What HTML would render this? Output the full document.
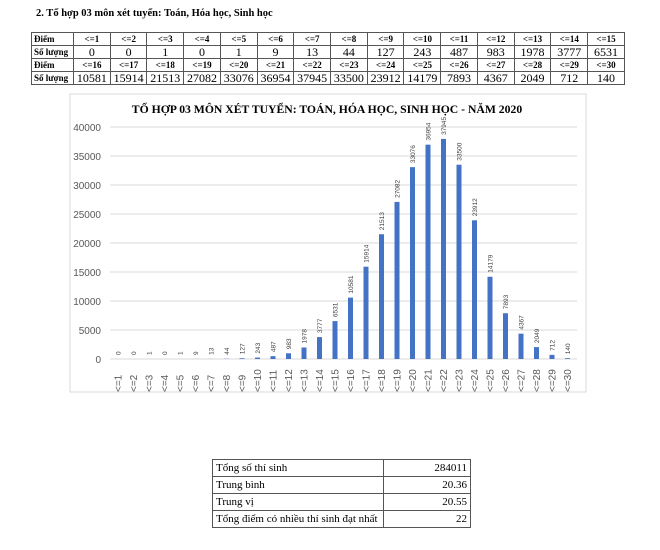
<!DOCTYPE html>
<html><head><meta charset="utf-8">
<style>
body{margin:0;width:660px;height:550px;background:#fff;position:relative;overflow:hidden;font-family:"Liberation Serif",serif;}
.title{position:absolute;left:36px;top:8px;font-weight:bold;font-size:10.5px;}
table{border-collapse:collapse;position:absolute;}
#t1{left:31px;top:32px;width:594px;table-layout:fixed;}
#t1 td{border:1px solid #555;text-align:center;padding:0;font-size:12px;height:12px;line-height:12px;overflow:hidden;white-space:nowrap;}
#t1 tr.h td{font-weight:bold;font-size:9px;}
#t1 td.f{text-align:left;font-weight:bold;font-size:9px;padding-left:2px;}
#t2{left:212px;top:459px;width:259px;}
#t2 td{border:1px solid #555;font-size:11px;height:16px;line-height:14px;padding:0 3px;}
#t2 td.r{text-align:right;width:80px;}
svg{position:absolute;left:0;top:0;}
</style></head><body>
<div class="title">2. Tổ hợp 03 môn xét tuyển: Toán, Hóa học, Sinh học</div>
<table id="t1">
<colgroup><col style="width:42px"></colgroup>
<tr class="h"><td class="f">Điểm</td><td>&lt;=1</td><td>&lt;=2</td><td>&lt;=3</td><td>&lt;=4</td><td>&lt;=5</td><td>&lt;=6</td><td>&lt;=7</td><td>&lt;=8</td><td>&lt;=9</td><td>&lt;=10</td><td>&lt;=11</td><td>&lt;=12</td><td>&lt;=13</td><td>&lt;=14</td><td>&lt;=15</td></tr>
<tr><td class="f">Số lượng</td><td>0</td><td>0</td><td>1</td><td>0</td><td>1</td><td>9</td><td>13</td><td>44</td><td>127</td><td>243</td><td>487</td><td>983</td><td>1978</td><td>3777</td><td>6531</td></tr>
<tr class="h"><td class="f">Điểm</td><td>&lt;=16</td><td>&lt;=17</td><td>&lt;=18</td><td>&lt;=19</td><td>&lt;=20</td><td>&lt;=21</td><td>&lt;=22</td><td>&lt;=23</td><td>&lt;=24</td><td>&lt;=25</td><td>&lt;=26</td><td>&lt;=27</td><td>&lt;=28</td><td>&lt;=29</td><td>&lt;=30</td></tr>
<tr><td class="f">Số lượng</td><td>10581</td><td>15914</td><td>21513</td><td>27082</td><td>33076</td><td>36954</td><td>37945</td><td>33500</td><td>23912</td><td>14179</td><td>7893</td><td>4367</td><td>2049</td><td>712</td><td>140</td></tr>
</table>
<svg width="660" height="550" id="c" xmlns="http://www.w3.org/2000/svg">
<rect x="70" y="94" width="516" height="298" fill="#fff" stroke="#d9d9d9"/>
<text x="327" y="113" text-anchor="middle" font-family="Liberation Serif,serif" font-weight="bold" font-size="11.7">TỔ HỢP 03 MÔN XÉT TUYỂN: TOÁN, HÓA HỌC, SINH HỌC - NĂM 2020</text>
<g id="g"></g>
</svg>
<table id="t2">
<tr><td>Tổng số thí sinh</td><td class="r">284011</td></tr>
<tr><td>Trung bình</td><td class="r">20.36</td></tr>
<tr><td>Trung vị</td><td class="r">20.55</td></tr>
<tr><td>Tổng điểm có nhiều thí sinh đạt nhất</td><td class="r">22</td></tr>
</table>
<script>
var d=[0,0,1,0,1,9,13,44,127,243,487,983,1978,3777,6531,10581,15914,21513,27082,33076,36954,37945,33500,23912,14179,7893,4367,2049,712,140];
var s='',y0=359,k=232/40000;
for(var v=0;v<=40000;v+=5000){var y=y0-v*k;
s+='<line x1="110" x2="577" y1="'+y+'" y2="'+y+'" stroke="#d9d9d9"/>';
s+='<text x="101" y="'+(y+4)+'" text-anchor="end" font-family="Liberation Sans,sans-serif" font-size="10" fill="#595959">'+v+'</text>';}
for(var i=0;i<30;i++){var x=118+i*15.5,h=d[i]*k;
s+='<rect x="'+(x-2.5)+'" y="'+(y0-h)+'" width="5" height="'+h+'" fill="#4472c4"/>';
var ty=y0-h-4;
s+='<text transform="translate('+(x+2.5)+','+ty+') rotate(-90)" font-family="Liberation Sans,sans-serif" font-size="6.5" fill="#404040">'+d[i]+'</text>';
s+='<text transform="translate('+(x+3.5)+',392) rotate(-90)" font-family="Liberation Sans,sans-serif" font-size="10" fill="#595959">&lt;='+(i+1)+'</text>';}
document.getElementById('g').innerHTML=s;
</script>
</body></html>
